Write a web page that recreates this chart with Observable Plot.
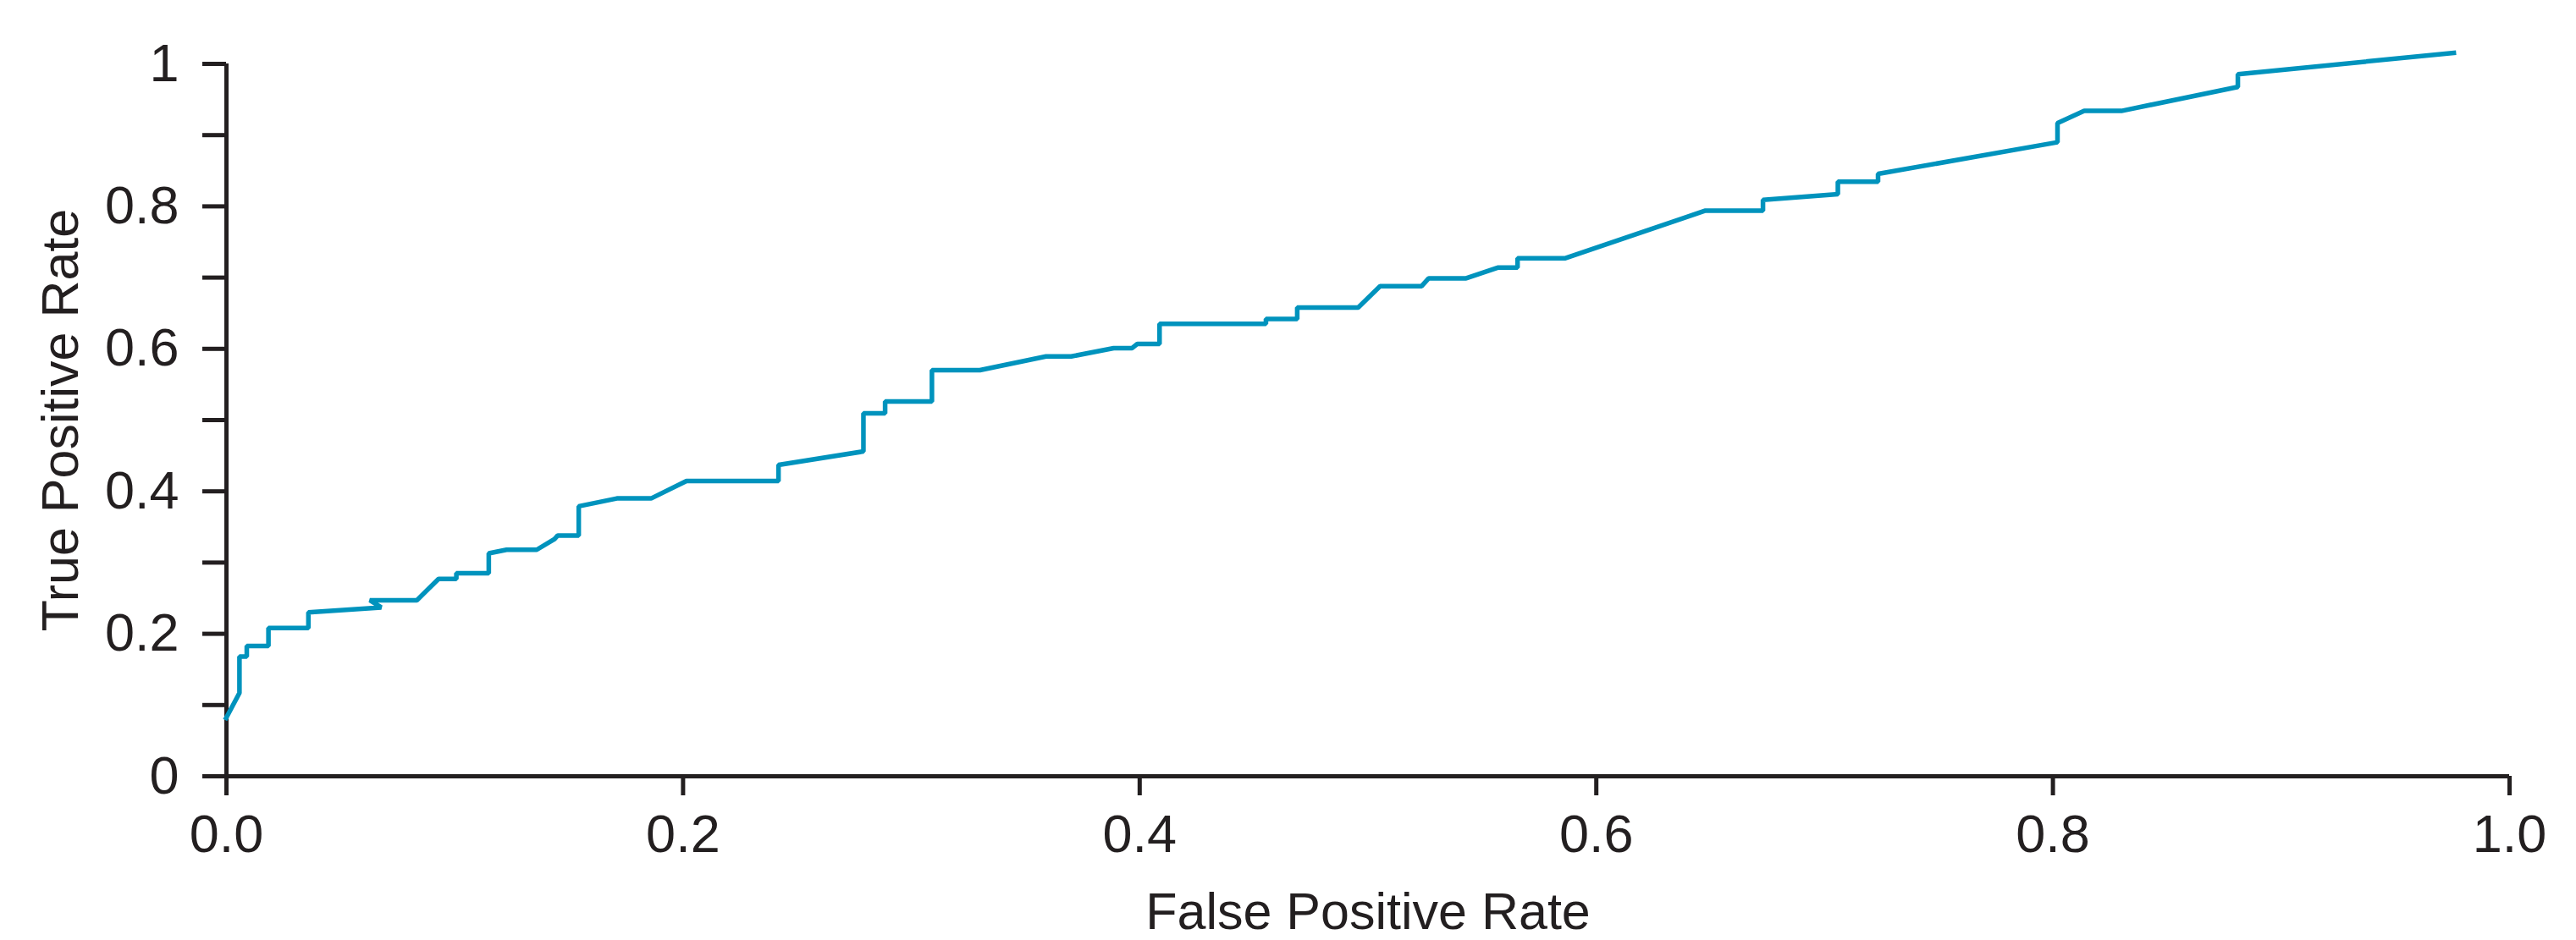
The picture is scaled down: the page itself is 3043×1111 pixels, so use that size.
<!DOCTYPE html>
<html>
<head>
<meta charset="utf-8">
<script src="https://cdn.jsdelivr.net/npm/d3@7"></script>
<script src="https://cdn.jsdelivr.net/npm/@observablehq/plot@0.6"></script>
<style>
  html, body { margin: 0; padding: 0; background: #ffffff; }
  #wrap { position: relative; width: 3043px; height: 1111px; overflow: hidden; }
  #title { position: absolute; left: 42px; top: -54px; font-family: "Liberation Sans", Arial, sans-serif; font-size: 60px; line-height: 60px; color: #0b3a63; white-space: nowrap; }
  #chart { position: absolute; left: 0; top: 0; }
</style>
</head>
<body>
<div id="wrap">
  <div id="title">Figure</div>
  <div id="chart"></div>
</div>
<script>
// ROC curve points
const fpr = [-0.0006, 0.0057, 0.0057, 0.0089, 0.0089, 0.0184, 0.0184, 0.0359, 0.0359, 0.0678,
  0.0628, 0.0834, 0.0929, 0.1007, 0.1007, 0.1149, 0.1149, 0.1227, 0.1359, 0.1437,
  0.1451, 0.1543, 0.1543, 0.171, 0.186, 0.2015, 0.2418, 0.2418, 0.279, 0.279,
  0.2885, 0.2885, 0.309, 0.309, 0.330, 0.359, 0.370, 0.3886, 0.3967, 0.399,
  0.4087, 0.4087, 0.4553, 0.4553, 0.469, 0.469, 0.4957, 0.5053, 0.5235, 0.5266,
  0.543, 0.5568, 0.5655, 0.5655, 0.5862, 0.6478, 0.673, 0.673, 0.7058, 0.7058,
  0.7234, 0.7234, 0.802, 0.802, 0.8137, 0.830, 0.881, 0.881, 0.9766];
const tpr = [0.079, 0.117, 0.168, 0.168, 0.183, 0.183, 0.208, 0.208, 0.230, 0.237,
  0.247, 0.247, 0.277, 0.277, 0.285, 0.285, 0.313, 0.318, 0.318, 0.333,
  0.338, 0.338, 0.379, 0.390, 0.390, 0.4145, 0.4145, 0.437, 0.456, 0.5095,
  0.5095, 0.526, 0.526, 0.570, 0.570, 0.5894, 0.5894, 0.601, 0.601, 0.607,
  0.607, 0.635, 0.635, 0.642, 0.642, 0.658, 0.658, 0.688, 0.688, 0.699,
  0.699, 0.714, 0.714, 0.727, 0.727, 0.794, 0.794, 0.809, 0.817, 0.8346,
  0.8346, 0.8456, 0.890, 0.917, 0.934, 0.934, 0.9676, 0.9854, 1.0158];

const xTicks = [0, 0.2, 0.4, 0.6, 0.8, 1.0];
const xTickLabels = ["0.0", "0.2", "0.4", "0.6", "0.8", "1.0"];
const yTicks = [0, 0.1, 0.2, 0.3, 0.4, 0.5, 0.6, 0.7, 0.8, 0.9, 1];
const yTickLabels = ["0", "", "0.2", "", "0.4", "", "0.6", "", "0.8", "", "1"];
const xLabel = "False Positive Rate";
const yLabel = "True Positive Rate";

const rows = fpr.map((x, i) => ({x, y: tpr[i]}));
const ink = "#231f20";
const lineColor = "#0093bd";

const chart = Plot.plot({
  width: 3043,
  height: 1111,
  marginTop: 75,
  marginBottom: 194,
  marginLeft: 267,
  marginRight: 79,
  style: {fontFamily: "'Liberation Sans', Arial, sans-serif", fontSize: "63px", color: ink, background: "#ffffff", overflow: "visible"},
  x: {domain: [0, 1]},
  y: {domain: [0, 1]},
  marks: [
    Plot.axisX({ticks: xTicks, tickFormat: (d) => xTickLabels[xTicks.indexOf(d)], tickSize: 23, tickPadding: 22, strokeWidth: 5, stroke: ink, fill: ink, label: null, fontSize: 63}),
    Plot.axisY({ticks: yTicks, tickFormat: (d) => yTickLabels[yTicks.findIndex(t => Math.abs(t - d) < 1e-9)], tickSize: 28, tickPadding: 28, strokeWidth: 5, stroke: ink, fill: ink, label: null, fontSize: 63}),
    Plot.ruleX([0], {y1: 0, y2: 1, stroke: ink, strokeWidth: 5}),
    Plot.ruleY([0], {x1: 0, x2: 1, stroke: ink, strokeWidth: 5}),
    Plot.line(rows, {x: "x", y: "y", stroke: lineColor, strokeWidth: 5.5, strokeLinejoin: "miter", strokeLinecap: "butt"}),
    Plot.text([xLabel], {frameAnchor: "bottom", dy: 180, lineAnchor: "bottom", fill: ink, fontSize: 61}),
    Plot.text([yLabel], {frameAnchor: "left", dx: -195, rotate: -90, textAnchor: "middle", lineAnchor: "middle", fill: ink, fontSize: 61})
  ]
});
document.getElementById("chart").appendChild(chart);
</script>
</body>
</html>
